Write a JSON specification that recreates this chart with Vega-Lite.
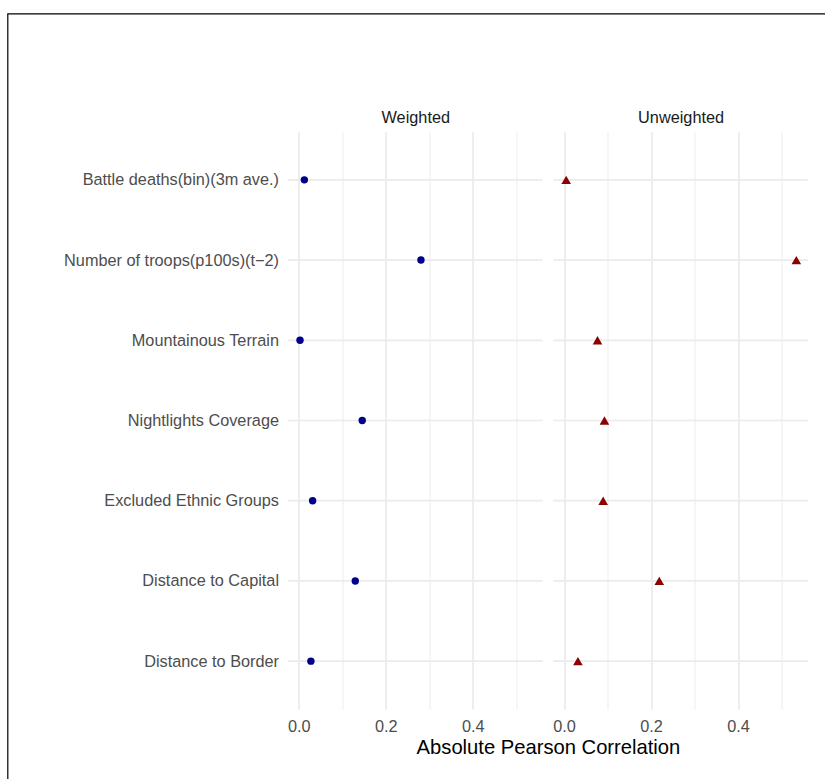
{
  "$schema": "https://vega.github.io/schema/vega-lite/v6.json",
  "width": 818.5,
  "height": 814,
  "autosize": {"type": "none"},
  "padding": {"left": 7.5, "top": 13.5, "right": 0, "bottom": 0},
  "background": "white",
  "config": {
    "font": "Liberation Sans",
    "view": {"stroke": "#000000", "strokeWidth": 1.2, "fill": "white"},
    "axis": {"labelFont": "Liberation Sans", "titleFont": "Liberation Sans"}
  },
  "data": {
    "values": [
      {"variable": "Battle deaths(bin)(3m ave.)", "panel": "Weighted", "value": 0.013},
      {"variable": "Number of troops(p100s)(t−2)", "panel": "Weighted", "value": 0.281},
      {"variable": "Mountainous Terrain", "panel": "Weighted", "value": 0.003},
      {"variable": "Nightlights Coverage", "panel": "Weighted", "value": 0.146},
      {"variable": "Excluded Ethnic Groups", "panel": "Weighted", "value": 0.032},
      {"variable": "Distance to Capital", "panel": "Weighted", "value": 0.130},
      {"variable": "Distance to Border", "panel": "Weighted", "value": 0.028},
      {"variable": "Battle deaths(bin)(3m ave.)", "panel": "Unweighted", "value": 0.005},
      {"variable": "Number of troops(p100s)(t−2)", "panel": "Unweighted", "value": 0.534},
      {"variable": "Mountainous Terrain", "panel": "Unweighted", "value": 0.077},
      {"variable": "Nightlights Coverage", "panel": "Unweighted", "value": 0.093},
      {"variable": "Excluded Ethnic Groups", "panel": "Unweighted", "value": 0.090},
      {"variable": "Distance to Capital", "panel": "Unweighted", "value": 0.219},
      {"variable": "Distance to Border", "panel": "Unweighted", "value": 0.032}
    ]
  },
  "encoding": {
    "y": {
      "field": "variable",
      "type": "nominal",
      "sort": null,
      "scale": {"type": "point", "range": [118.2, 695.8], "padding": 0.6},
      "axis": {
        "orient": "left",
        "offset": -280.5,
        "title": null,
        "domain": false,
        "ticks": false,
        "tickSize": 0,
        "grid": false,
        "labelPadding": 9.5,
        "labelFontSize": 16.3,
        "labelColor": "#4D4D4D",
        "labelLimit": 0
      }
    }
  },
  "layer": [
    {
      "transform": [{"filter": "datum.panel === 'Weighted'"}],
      "layer": [
        {
          "mark": {"type": "rule", "color": "#EBEBEB", "strokeWidth": 1.7},
          "encoding": {
            "x": {
              "datum": -0.0246,
              "type": "quantitative",
              "scale": {"domain": [-0.0246, 0.5606], "range": [280.5, 535.1], "zero": false, "nice": false},
              "axis": {
                "orient": "bottom", "offset": -118.2,
                "values": [0, 0.1, 0.2, 0.3, 0.4, 0.5],
                "domain": false, "ticks": false, "tickSize": 0,
                "grid": true, "gridColor": "#EBEBEB",
                "gridWidth": {"condition": {"test": "round(datum.value * 10) % 2 === 1", "value": 0.9}, "value": 1.7},
                "labelExpr": "round(datum.value * 10) % 2 === 0 ? format(datum.value, '.1f') : ''",
                "labelFontSize": 16.3, "labelColor": "#4D4D4D", "labelPadding": 9.3,
                "labelFlush": false, "labelOverlap": false,
                "title": "Weighted", "titleY": -586.6, "titleBaseline": "alphabetic",
                "titleFontSize": 16.3, "titleFontWeight": "normal", "titleColor": "#1A1A1A"
              }
            },
            "x2": {"datum": 0.5606}
          }
        },
        {
          "mark": {"type": "point", "shape": "circle", "filled": true, "size": 55, "color": "#00008B", "opacity": 1},
          "encoding": {
            "x": {
              "field": "value",
              "type": "quantitative",
              "scale": {"domain": [-0.0246, 0.5606], "range": [280.5, 535.1], "zero": false, "nice": false},
              "axis": {
                "orient": "bottom", "offset": -118.2,
                "values": [0, 0.1, 0.2, 0.3, 0.4, 0.5],
                "domain": false, "ticks": false, "tickSize": 0,
                "grid": true, "gridColor": "#EBEBEB",
                "gridWidth": {"condition": {"test": "round(datum.value * 10) % 2 === 1", "value": 0.9}, "value": 1.7},
                "labelExpr": "round(datum.value * 10) % 2 === 0 ? format(datum.value, '.1f') : ''",
                "labelFontSize": 16.3, "labelColor": "#4D4D4D", "labelPadding": 9.3,
                "labelFlush": false, "labelOverlap": false,
                "title": "Weighted", "titleY": -586.6, "titleBaseline": "alphabetic",
                "titleFontSize": 16.3, "titleFontWeight": "normal", "titleColor": "#1A1A1A"
              }
            }
          }
        }
      ]
    },
    {
      "transform": [{"filter": "datum.panel === 'Unweighted'"}],
      "layer": [
        {
          "mark": {"type": "rule", "color": "#EBEBEB", "strokeWidth": 1.7},
          "encoding": {
            "x": {
              "datum": -0.0246,
              "type": "quantitative",
              "scale": {"domain": [-0.0246, 0.5606], "range": [545.8, 800.4], "zero": false, "nice": false},
              "axis": {
                "orient": "bottom", "offset": -118.2,
                "values": [0, 0.1, 0.2, 0.3, 0.4, 0.5],
                "domain": false, "ticks": false, "tickSize": 0,
                "grid": true, "gridColor": "#EBEBEB",
                "gridWidth": {"condition": {"test": "round(datum.value * 10) % 2 === 1", "value": 0.9}, "value": 1.7},
                "labelExpr": "round(datum.value * 10) % 2 === 0 ? format(datum.value, '.1f') : ''",
                "labelFontSize": 16.3, "labelColor": "#4D4D4D", "labelPadding": 9.3,
                "labelFlush": false, "labelOverlap": false,
                "title": "Unweighted", "titleY": -586.6, "titleBaseline": "alphabetic",
                "titleFontSize": 16.3, "titleFontWeight": "normal", "titleColor": "#1A1A1A"
              }
            },
            "x2": {"datum": 0.5606}
          }
        },
        {
          "mark": {"type": "point", "shape": "triangle-up", "filled": true, "size": 92, "color": "#8B0000", "opacity": 1},
          "encoding": {
            "x": {
              "field": "value",
              "type": "quantitative",
              "scale": {"domain": [-0.0246, 0.5606], "range": [545.8, 800.4], "zero": false, "nice": false},
              "axis": {
                "orient": "bottom", "offset": -118.2,
                "values": [0, 0.1, 0.2, 0.3, 0.4, 0.5],
                "domain": false, "ticks": false, "tickSize": 0,
                "grid": true, "gridColor": "#EBEBEB",
                "gridWidth": {"condition": {"test": "round(datum.value * 10) % 2 === 1", "value": 0.9}, "value": 1.7},
                "labelExpr": "round(datum.value * 10) % 2 === 0 ? format(datum.value, '.1f') : ''",
                "labelFontSize": 16.3, "labelColor": "#4D4D4D", "labelPadding": 9.3,
                "labelFlush": false, "labelOverlap": false,
                "title": "Unweighted", "titleY": -586.6, "titleBaseline": "alphabetic",
                "titleFontSize": 16.3, "titleFontWeight": "normal", "titleColor": "#1A1A1A"
              }
            }
          }
        }
      ]
    },
    {
      "mark": {"type": "point", "opacity": 0},
      "encoding": {
        "x": {
          "field": "value",
          "type": "quantitative",
          "scale": {"domain": [0, 1], "range": [280.5, 800.4], "zero": false, "nice": false},
          "axis": {
            "orient": "bottom", "offset": -118.2,
            "labels": false, "ticks": false, "domain": false, "grid": false,
            "title": "Absolute Pearson Correlation", "titleY": 43.7, "titleBaseline": "alphabetic",
            "titleFontSize": 20.2, "titleFontWeight": "normal", "titleColor": "#000000"
          }
        }
      }
    }
  ],
  "resolve": {"scale": {"x": "independent"}, "axis": {"x": "independent"}}
}
